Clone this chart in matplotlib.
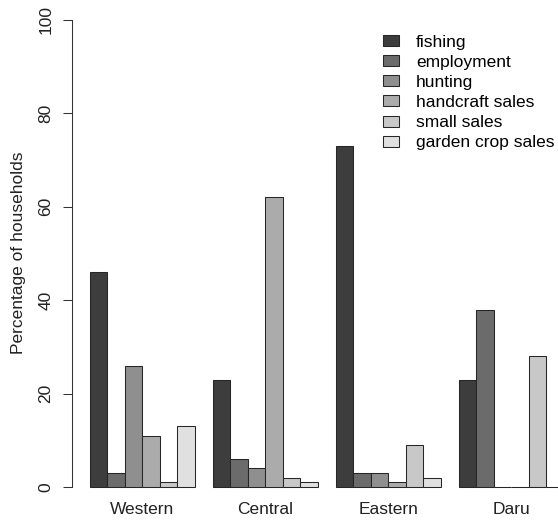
import numpy as np
import matplotlib
matplotlib.use("Agg")
import matplotlib.pyplot as plt

plt.rcParams['font.family'] = ['Liberation Sans', 'DejaVu Sans']

regions = ["Western", "Central", "Eastern", "Daru"]
sources = ["fishing", "employment", "hunting", "handcraft sales",
           "small sales", "garden crop sales"]
fishing = [46, 23, 73, 23]
employment = [3, 6, 3, 38]
hunting = [26, 4, 3, 0]
handcraft = [11, 62, 1, 0]
small_sales = [1, 2, 9, 28]
garden = [13, 1, 2, 0]
series = [fishing, employment, hunting, handcraft, small_sales, garden]
colors = ["#3d3d3d", "#6b6b6b", "#8f8f8f", "#ababab", "#c8c8c8", "#e0e0e0"]

W, H = 558, 522
fs = 12.5
fig = plt.figure(figsize=(W / 100, H / 100), dpi=100)
# plot region in pixels: y axis at x=72, 0 at y=487, 100 at y=20
ax = fig.add_axes([72 / W, (H - 487) / H, (W - 72) / W, 467 / H])

n = len(sources)
group = np.arange(len(regions)) * (n + 1) + 1  # beside=TRUE, space=c(0,1)
for i, (vals, col) in enumerate(zip(series, colors)):
    ax.bar(group + i + 0.5, vals, width=1.0, color=col, edgecolor="#262626",
           linewidth=0.75, label=sources[i], clip_on=False)

ax.set_xlim(0, 27.66)
ax.set_ylim(0, 100)

for s in ["top", "right", "bottom"]:
    ax.spines[s].set_visible(False)
ax.spines["left"].set_bounds(0, 100)
ax.spines["left"].set_linewidth(0.75)
ax.spines["left"].set_color("#333333")

ax.set_yticks([0, 20, 40, 60, 80, 100])
ax.tick_params(axis="y", length=6.5, width=0.75, color="#333333", pad=7,
               labelsize=fs, labelcolor="#222222")
for lab in ax.get_yticklabels():
    lab.set_rotation(90)
    lab.set_va("center")

ax.set_xticks(group + n / 2)
ax.set_xticklabels(regions, fontsize=fs, color="#222222")
ax.tick_params(axis="x", length=0, pad=10.5)

fig.text(19 / W, 1 - 253 / H, "Percentage of households", rotation=90,
         ha="center", va="center", fontsize=fs, color="#222222")

ax.legend(loc="upper left", bbox_to_anchor=(383 / W, 1 - 35 / H),
          bbox_transform=fig.transFigure, frameon=False, fontsize=fs,
          handlelength=0.9, handleheight=0.6, handletextpad=1.0,
          labelspacing=0.29, borderpad=0, borderaxespad=0)

fig.savefig("out.png", dpi=100)
